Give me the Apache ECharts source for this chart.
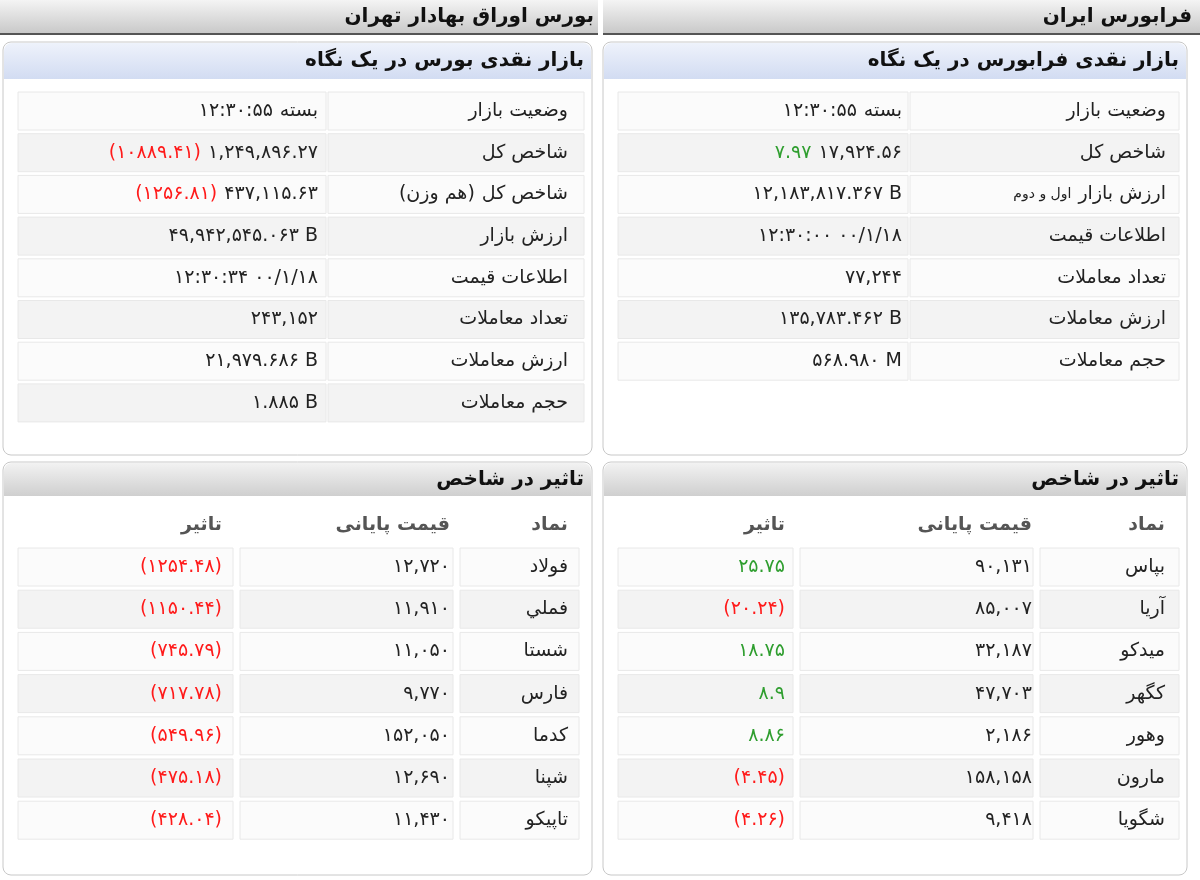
<!DOCTYPE html>
<html><head><meta charset="utf-8">
<script src="https://cdn.jsdelivr.net/npm/echarts@6/dist/echarts.min.js"></script>
<style>html,body{margin:0;padding:0;background:#fff}#c{width:1200px;height:880px}</style>
</head><body><div id="c"></div>
<script>
// ---- data ----
const topTitles = ['بورس اوراق بهادار تهران', 'فرابورس ایران'];
const panelTitles = ['بازار نقدی بورس در یک نگاه', 'بازار نقدی فرابورس در یک نگاه'];
const impactTitle = 'تاثیر در شاخص';
const bourseLabels = ['وضعیت بازار', 'شاخص کل', 'شاخص کل (هم وزن)', 'ارزش بازار', 'اطلاعات قیمت', 'تعداد معاملات', 'ارزش معاملات', 'حجم معاملات'];
const bourseValues = ['بسته ۱۲:۳۰:۵۵', '۱,۲۴۹,۸۹۶.۲۷', '۴۳۷,۱۱۵.۶۳', '۴۹,۹۴۲,۵۴۵.۰۶۳ B', '۱۲:۳۰:۳۴ ۰۰/۱/۱۸', '۲۴۳,۱۵۲', '۲۱,۹۷۹.۶۸۶ B', '۱.۸۸۵ B'];
const bourseChanges = ['', '(۱۰۸۸۹.۴۱)', '(۱۲۵۶.۸۱)', '', '', '', '', ''];
const bourseChangeSign = [0, -1, -1, 0, 0, 0, 0, 0];
const faraLabels = ['وضعیت بازار', 'شاخص کل', 'ارزش بازار|اول و دوم', 'اطلاعات قیمت', 'تعداد معاملات', 'ارزش معاملات', 'حجم معاملات'];
const faraValues = ['بسته ۱۲:۳۰:۵۵', '۱۷,۹۲۴.۵۶', '۱۲,۱۸۳,۸۱۷.۳۶۷ B', '۱۲:۳۰:۰۰ ۰۰/۱/۱۸', '۷۷,۲۴۴', '۱۳۵,۷۸۳.۴۶۲ B', '۵۶۸.۹۸۰ M'];
const faraChanges = ['', '۷.۹۷', '', '', '', '', ''];
const faraChangeSign = [0, 1, 0, 0, 0, 0, 0];
const colHeaders = ['نماد', 'قیمت پایانی', 'تاثیر'];
const bourseSymbols = ['فولاد', 'فملي', 'شستا', 'فارس', 'كدما', 'شپنا', 'تاپيكو'];
const bourseClose = ['۱۲,۷۲۰', '۱۱,۹۱۰', '۱۱,۰۵۰', '۹,۷۷۰', '۱۵۲,۰۵۰', '۱۲,۶۹۰', '۱۱,۴۳۰'];
const bourseImpact = ['(۱۲۵۴.۴۸)', '(۱۱۵۰.۴۴)', '(۷۴۵.۷۹)', '(۷۱۷.۷۸)', '(۵۴۹.۹۶)', '(۴۷۵.۱۸)', '(۴۲۸.۰۴)'];
const bourseImpactSign = [-1, -1, -1, -1, -1, -1, -1];
const faraSymbols = ['بپاس', 'آريا', 'ميدكو', 'كگهر', 'وهور', 'مارون', 'شگويا'];
const faraClose = ['۹۰,۱۳۱', '۸۵,۰۰۷', '۳۲,۱۸۷', '۴۷,۷۰۳', '۲,۱۸۶', '۱۵۸,۱۵۸', '۹,۴۱۸'];
const faraImpact = ['۲۵.۷۵', '(۲۰.۲۴)', '۱۸.۷۵', '۸.۹', '۸.۸۶', '(۴.۴۵)', '(۴.۲۶)'];
const faraImpactSign = [1, -1, 1, 1, 1, -1, -1];

// ---- drawing ----
const FONT = 'DejaVu Sans';
const FS = 19;
const RED = '#ff1a1a', GREEN = '#2f9e2f';
const mctx = document.createElement('canvas').getContext('2d');
function tw(s, size) { mctx.font = (size || FS) + 'px "' + FONT + '"'; return mctx.measureText(s).width; }
const els = [];
function rect(x, y, w, h, fill, stroke, r) {
  els.push({type: 'rect', shape: {x, y, width: w, height: h, r: r || 0},
    style: {fill, stroke: stroke || null, lineWidth: 1}});
}
function txt(x, y, text, opt) {
  opt = opt || {};
  els.push({type: 'text', x, y, style: Object.assign({text, fontFamily: FONT, fontSize: FS,
    fill: '#222', align: 'right', verticalAlign: 'middle'}, opt)});
}
function pieces(xr, y, arr) {
  let x = xr;
  arr.forEach(p => {
    txt(x, y, p.t, {fill: p.c || '#222', fontSize: p.s || FS});
    x -= tw(p.t, p.s) + (p.g == null ? 7 : p.g);
  });
}
function numPieces(t, c) {
  const m = t.match(/^\((.*)\)$/);
  if (!m) return [{t, c}];
  return [{t: ')', c, g: 0}, {t: m[1], c, g: 0}, {t: '(', c}];
}
function grad(c1, c2) {
  return new echarts.graphic.LinearGradient(0, 0, 0, 1, [{offset: 0, color: c1}, {offset: 1, color: c2}]);
}
const sc = s => s > 0 ? GREEN : (s < 0 ? RED : '#222');

[[0, 598, 594], [603, 597, 1192]].forEach((b, i) => {
  rect(b[0], 0, b[1], 33, grad('#f4f4f4', '#c9c9c9'));
  rect(b[0], 33, b[1], 2, '#555');
  txt(b[2], 17, topTitles[i], {fontWeight: 'bold', fontSize: 20, fill: '#111'});
});

const panels = [
  {x: 3, w: 589, labR: 568, valR: 318, split: 328},
  {x: 603, w: 584, labR: 1166, valR: 902, split: 910}
];
panels.forEach((p, i) => {
  rect(p.x, 42, p.w, 413, '#fff', '#c8c8c8', 8);
  rect(p.x + 1, 43, p.w - 2, 36, grad('#eef2fb', '#d2dcf2'), null, [8, 8, 0, 0]);
  txt(p.x + p.w - 8, 61, panelTitles[i], {fontWeight: 'bold', fontSize: 20, fill: '#111'});
  const labels = i ? faraLabels : bourseLabels;
  const vals = i ? faraValues : bourseValues;
  const chg = i ? faraChanges : bourseChanges;
  const sgn = i ? faraChangeSign : bourseChangeSign;
  const L = p.x + 15, R = p.x + p.w - 8;
  labels.forEach((lab, k) => {
    const cy = 111 + k * 41.7, y0 = cy - 19;
    const bg = k % 2 ? '#f3f3f3' : '#fbfbfb';
    rect(L, y0, p.split - L - 2, 38, bg, '#e8e8e8');
    rect(p.split, y0, R - p.split, 38, bg, '#e8e8e8');
    if (lab.indexOf('|') >= 0) {
      const parts = lab.split('|');
      pieces(p.labR, cy, [{t: parts[0]}, {t: parts[1], s: 14}]);
    } else if (lab.indexOf('(') >= 0) {
      const m = lab.match(/^(.*?) \((.*)\)$/);
      pieces(p.labR, cy, [{t: m[1]}, {t: ')', g: 0}, {t: m[2], g: 0}, {t: '('}]);
    } else {
      txt(p.labR, cy, lab);
    }
    const v = vals[k];
    if (v.indexOf('بسته') === 0) {
      const s = v.split(' ');
      pieces(p.valR, cy, [{t: s[0]}, {t: s[1]}]);
    } else if (chg[k]) {
      pieces(p.valR, cy, [{t: v}].concat(numPieces(chg[k], sc(sgn[k]))));
    } else {
      txt(p.valR, cy, v);
    }
  });

  rect(p.x, 462, p.w, 413, '#fff', '#c8c8c8', 8);
  rect(p.x + 1, 463, p.w - 2, 33, grad('#f2f2f2', '#cfcfcf'), null, [8, 8, 0, 0]);
  txt(p.x + p.w - 8, 480, impactTitle, {fontWeight: 'bold', fontSize: 20, fill: '#111'});
  const cols = i ? [[1040, 1182, 1165], [800, 1036, 1032], [618, 796, 785]]
                 : [[460, 582, 568], [240, 456, 450], [18, 236, 222]];
  colHeaders.forEach((h, c) => txt(cols[c][2], 525, h, {fontWeight: 'bold', fill: '#555'}));
  const syms = i ? faraSymbols : bourseSymbols;
  const cl = i ? faraClose : bourseClose;
  const im = i ? faraImpact : bourseImpact;
  const is = i ? faraImpactSign : bourseImpactSign;
  syms.forEach((s, k) => {
    const cy = 567 + k * 42.2, y0 = cy - 19;
    const bg = k % 2 ? '#f3f3f3' : '#fbfbfb';
    cols.forEach(c => rect(c[0], y0, c[1] - c[0] - 3, 38, bg, '#e8e8e8'));
    txt(cols[0][2], cy, s);
    txt(cols[1][2], cy, cl[k]);
    pieces(cols[2][2], cy, numPieces(im[k], sc(is[k])));
  });
});

const chart = echarts.init(document.getElementById('c'), null, {renderer: 'canvas'});
chart.setOption({animation: false, backgroundColor: '#fff', graphic: {elements: els}});
</script></body></html>
